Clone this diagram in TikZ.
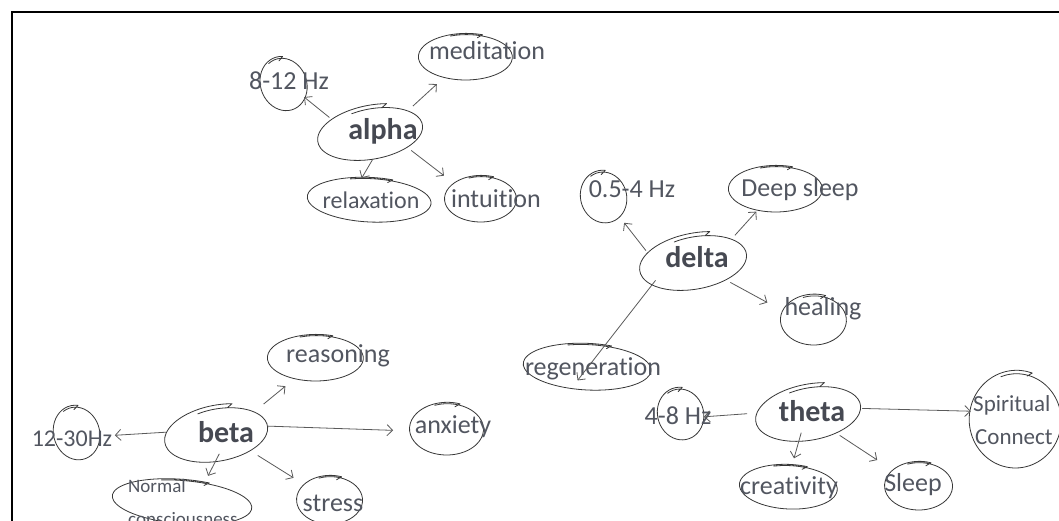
\documentclass[tikz,border=0pt]{standalone}
\usepackage{fontspec}
\setmainfont{Carlito}[Ligatures=NoCommon]
\usetikzlibrary{shapes.geometric,arrows.meta}
\definecolor{txt}{RGB}{82,86,96}
\definecolor{inkc}{RGB}{55,55,55}
\definecolor{arrc}{RGB}{90,90,90}
\tikzset{
  hub/.style={ellipse, draw=none, inner sep=0pt, outer sep=0pt},
  sk/.style={draw=inkc, line width=0.8pt, line cap=round, line join=round},
  arr/.style={draw=arrc, line width=0.8pt, -{Straight Barb[length=5.5pt,width=11pt]}},
  lbl/.style={text=txt, inner sep=0pt, font=\fontsize{26}{28}\selectfont},
  hubtxt/.style={text=txt!85!black, inner sep=0pt, font=\fontsize{30}{32}\selectfont\bfseries},
}
% name, cx, cy, rx, ry, rotation, spread
\newcommand{\blob}[7]{%
  \node[hub, minimum width={2*#4pt}, minimum height={2*#5pt}] (#1) at (#2,#3) {};
  \begin{scope}[shift={(#2,#3)}, rotate=#6]
    \draw[sk] plot[smooth, samples=50, domain=0:1]
      ({#4*(1-#7+2*#7*\x)*cos(250+400*\x)}, {#5*(1-#7+2*#7*\x)*sin(250+400*\x)}) -- ++(-5,3);
  \end{scope}}
\begin{document}
\begin{tikzpicture}[x=1pt, y=-1pt]
\useasboundingbox (0,0) rectangle (1059,521);
\clip (0,0) rectangle (1059,521);
\fill[white] (0,0) rectangle (1059,521);
\draw[line width=2.5pt, black] (12,530) -- (12,12) -- (1070,12);

% ---------- alpha ----------
\blob{alphaE}{372}{133}{53}{26}{10}{0.08}
\blob{hzA}{284}{84}{23}{27}{20}{0.04}
\blob{medE}{466}{57}{47}{23}{0}{0.03}
\blob{relE}{370}{200}{62}{22}{-3}{0.03}
\blob{intE}{481}{199}{36}{23}{0}{0.03}
\node[hubtxt] (alphaT) at (383,131) {alpha};
\node[lbl] (hzAT) at (289,81) {8-12 Hz};
\node[lbl] (medT) at (487,51) {meditation};
\node[lbl, font=\fontsize{24}{26}\selectfont] (relT) at (371,200) {relaxation};
\node[lbl] (intT) at (496,199) {intuition};
\draw[arr] (alphaE.160) -- (hzA.-33);
\draw[arr, shorten <=10pt, shorten >=10pt] (alphaE.31) -- (medE.223);
\draw[arr] (alphaE.-88) -- (relE.111);
\draw[arr, shorten >=13pt] (alphaE.-24) -- (intE.150);

% ---------- delta ----------
\blob{deltaE}{695}{262}{54}{27}{10}{0.08}
\blob{hzD}{604}{197}{23}{26}{15}{0.04}
\blob{deepE}{776}{189}{47}{23}{0}{0.03}
\blob{healE}{814}{320}{33}{25}{0}{0.04}
\blob{regE}{588}{367}{64}{23}{-3}{0.03}
\node[hubtxt] (deltaT) at (697,257) {delta};
\node[lbl] (hzDT) at (632,189) {0.5-4 Hz};
\node[lbl] (deepT) at (800,190) {Deep sleep};
\node[lbl] (healT) at (823,309) {healing};
\node[lbl] (regT) at (593,369) {regeneration};
\draw[arr, shorten >=8pt] (deltaE.167) -- (hzD.-52);
\draw[arr, shorten <=8pt, shorten >=2pt] (deltaE.31) -- (deepE.229);
\draw[arr, shorten >=18pt] (deltaE.-30) -- (healE.164);
\draw[arr, shorten >=-17pt] (deltaE.205) -- (regE.center);

% ---------- beta ----------
\blob{betaE}{218}{434}{52}{27}{10}{0.08}
\blob{hzB}{77}{433}{23}{27}{15}{0.04}
\blob{reasE}{316}{358}{48}{23}{0}{0.03}
\blob{anxE}{447}{429}{37}{26}{0}{0.03}
\blob{strE}{330}{500}{33}{24}{0}{0.03}
\blob{normE}{183}{502}{70}{22}{-5}{0.03}
\node[hubtxt] (betaT) at (226,432) {beta};
\node[lbl, font=\fontsize{24}{26}\selectfont] (hzBT) at (72,439) {12-30Hz};
\node[lbl] (reasT) at (338,356) {reasoning};
\node[lbl] (anxT) at (453,427) {anxiety};
\node[lbl] (strT) at (333,503) {stress};
\node[lbl, font=\fontsize{19}{20}\selectfont, anchor=west] (normT1) at (128,486) {Normal};
\node[lbl, font=\fontsize{19}{20}\selectfont, anchor=west] (normT2) at (128,519) {consciousness};
\draw[arr, shorten >=15pt] (betaE.178) -- (hzB.-8);
\draw[arr, shorten <=15pt, shorten >=12pt] (betaE.31) -- (reasE.224);
\draw[arr, shorten >=17pt] (betaE.9) -- (anxE.183);
\draw[arr, shorten <=4pt, shorten >=13pt] (betaE.-28) -- (strE.149);
\draw[arr, shorten <=-8pt, shorten >=6pt] (betaE.-95) -- (normE.43);

% ---------- theta ----------
\blob{thetaE}{810}{413}{53}{27}{10}{0.08}
\blob{hzT}{681}{414}{23}{26}{15}{0.04}
\blob{spirE}{1016}{420}{46}{48}{0}{0.04}
\blob{creE}{789}{487}{49}{22}{-3}{0.03}
\blob{slpE}{919}{486}{34}{24}{0}{0.03}
\node[hubtxt] (thetaT) at (812,411) {theta};
\node[lbl] (hzTT) at (678,416) {4-8 Hz};
\node[lbl, font=\fontsize{23}{24}\selectfont, anchor=west] (spirT1) at (973,405) {Spiritual};
\node[lbl, font=\fontsize{23}{24}\selectfont, anchor=west] (spirT2) at (975,437) {Connect};
\node[lbl] (creT) at (789,488) {creativity};
\node[lbl] (slpT) at (913,485) {Sleep};
\draw[arr, shorten <=10pt] (thetaE.180) -- (hzT.-7);
\draw[arr] (thetaE.5) -- (spirE.169);
\draw[arr, shorten <=-7pt, shorten >=7pt] (thetaE.-112) -- (creE.82);
\draw[arr, shorten >=19pt] (thetaE.-37) -- (slpE.149);
\end{tikzpicture}
\end{document}
